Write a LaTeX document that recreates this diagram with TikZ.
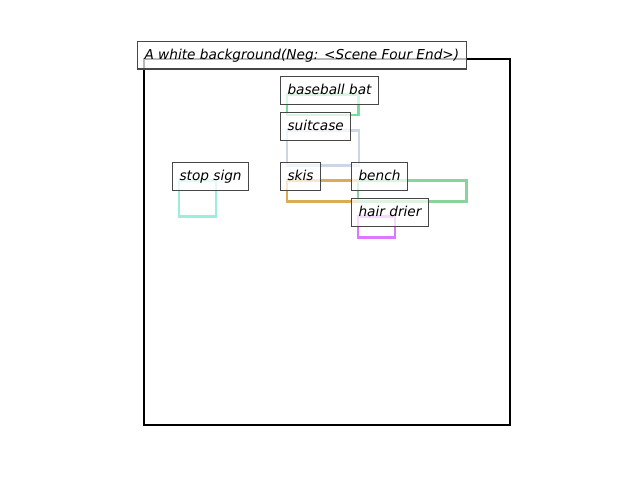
\documentclass[tikz,border=0pt]{standalone}
\usepackage{fontspec}
\setmainfont{DejaVu Sans}
\newfontfamily\labfont{DejaVu Sans Oblique}
\definecolor{cbat}{HTML}{77DD99}
\definecolor{cstop}{HTML}{99EEDD}
\definecolor{csuit}{HTML}{CCD6E6}
\definecolor{cskis}{HTML}{DDAA55}
\definecolor{cbench}{HTML}{88D49A}
\definecolor{cdrier}{HTML}{DD77FF}
\tikzset{
  bx/.style={line width=1.9pt},
  lab/.style={anchor=base west, draw=black!72, line width=0.8pt, fill=white, fill opacity=0.72, text opacity=1,
    inner xsep=5.25pt, inner ysep=5.25pt, text height=7.95pt, text depth=2.25pt,
    font=\labfont\fontsize{10.25pt}{12pt}\selectfont, xshift=-5.25pt},
}
\begin{document}
\begin{tikzpicture}[x=0.75pt,y=-0.75pt]
\useasboundingbox (0,0) rectangle (640,480);
\draw[line width=1.8pt] (144,59) rectangle (510,425);
\draw[bx,cbat] (287,94.3) rectangle (358.5,115);
\draw[bx,csuit] (287,130.3) rectangle (359,165.3);
\draw[bx,cstop] (179,180.3) rectangle (216,216.3);
\draw[bx,cskis] (287,180.3) rectangle (358,201.3);
\draw[bx,cbench] (358,180.3) rectangle (466.5,201.3);
\draw[bx,cdrier] (358,216.3) rectangle (395,237.3);
\node[lab] (title) at (144,59) {A white background(Neg: <Scene Four End>)};
\node[lab] (bat) at (287,94.3) {baseball bat};
\node[lab] (suit) at (287,130.3) {suitcase};
\node[lab] (stop) at (179,180.3) {stop sign};
\node[lab] (skis) at (287,180.3) {skis};
\node[lab] (bench) at (358,180.3) {bench};
\node[lab] (drier) at (358,216.3) {hair drier};
\end{tikzpicture}
\end{document}
